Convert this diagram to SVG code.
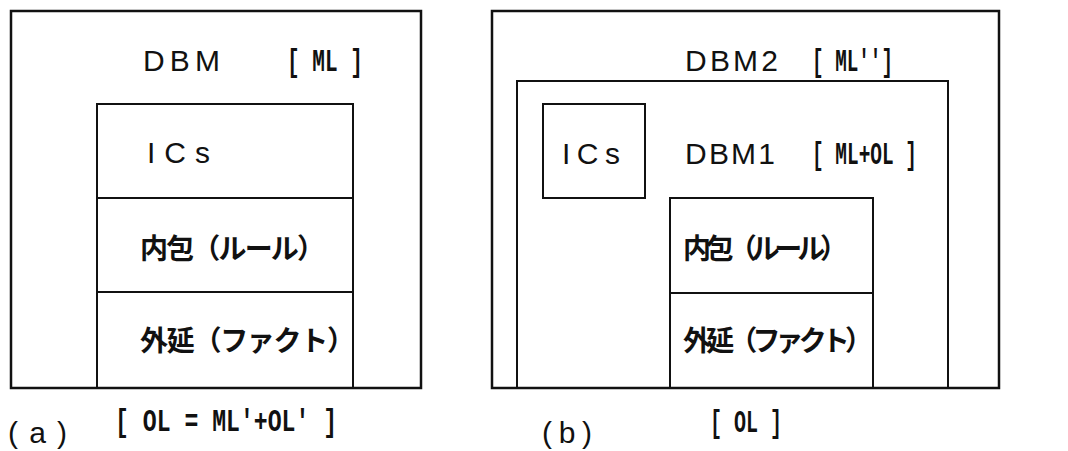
<svg xmlns="http://www.w3.org/2000/svg" width="1068" height="451" viewBox="0 0 1068 451">
<style>
.box{fill:none;stroke:#111;stroke-width:2.5}
.thin{fill:none;stroke:#111;stroke-width:2}
.lat{font-family:"Liberation Sans",sans-serif;font-size:30px;fill:#111}
.lbl{font-family:"Liberation Mono",monospace;font-weight:bold;font-size:32px;fill:#111}
.jp{font-family:"Noto Sans CJK JP","Noto Sans CJK SC",sans-serif;font-weight:bold;font-size:28px;fill:#111}
</style>
<rect width="1068" height="451" fill="#fff"/>
<g id="panel-a">
  <g id="dbm-a">
    <rect class="box" x="11" y="11" width="410" height="377"/>
    <text class="lat" x="143" y="71" textLength="77" lengthAdjust="spacing">DBM</text>
    <text class="lbl" x="287" y="71" textLength="76" lengthAdjust="spacingAndGlyphs">[ ML ]</text>
  </g>
  <g id="ics-a">
    <rect class="thin" x="97" y="104" width="256" height="94"/>
    <text class="lat" x="147" y="163" textLength="63" lengthAdjust="spacing">ICs</text>
  </g>
  <g id="rule-a">
    <rect class="thin" x="97" y="198" width="256" height="94"/>
    <text class="jp" x="140" y="259" textLength="185" lengthAdjust="spacing">内包（ルール）</text>
  </g>
  <g id="fact-a">
    <rect class="thin" x="97" y="292" width="256" height="96"/>
    <text class="jp" x="140" y="351" textLength="215" lengthAdjust="spacing">外延（ファクト）</text>
  </g>
  <text class="lbl" x="115" y="431" textLength="222" lengthAdjust="spacingAndGlyphs">[ OL = ML'+OL' ]</text>
  <text class="lat" x="8" y="443" textLength="59" lengthAdjust="spacing">(a)</text>
</g>
<g id="panel-b">
  <g id="dbm2">
    <rect class="box" x="492" y="11" width="507" height="377"/>
    <text class="lat" x="685" y="71" textLength="93" lengthAdjust="spacing">DBM2</text>
    <text class="lbl" x="812" y="71" textLength="81" lengthAdjust="spacingAndGlyphs">[ ML'']</text>
  </g>
  <g id="dbm1">
    <rect class="thin" x="517" y="81" width="431" height="307"/>
    <text class="lat" x="685" y="164" textLength="90" lengthAdjust="spacing">DBM1</text>
    <text class="lbl" x="812" y="164" textLength="105" lengthAdjust="spacingAndGlyphs">[ ML+OL ]</text>
  </g>
  <g id="ics-b">
    <rect class="thin" x="543" y="104" width="102" height="94"/>
    <text class="lat" x="562" y="164" textLength="58" lengthAdjust="spacing">ICs</text>
  </g>
  <g id="rule-b">
    <rect class="thin" x="670" y="198" width="203" height="95"/>
    <text class="jp" x="683" y="259" textLength="165" lengthAdjust="spacing">内包（ルール）</text>
  </g>
  <g id="fact-b">
    <rect class="thin" x="670" y="293" width="203" height="95"/>
    <text class="jp" x="683" y="351" textLength="190" lengthAdjust="spacing">外延（ファクト）</text>
  </g>
  <text class="lbl" x="710" y="432" textLength="72" lengthAdjust="spacingAndGlyphs">[ OL ]</text>
  <text class="lat" x="542" y="443" textLength="50" lengthAdjust="spacing">(b)</text>
</g>
<g id="connectors"></g>
</svg>
